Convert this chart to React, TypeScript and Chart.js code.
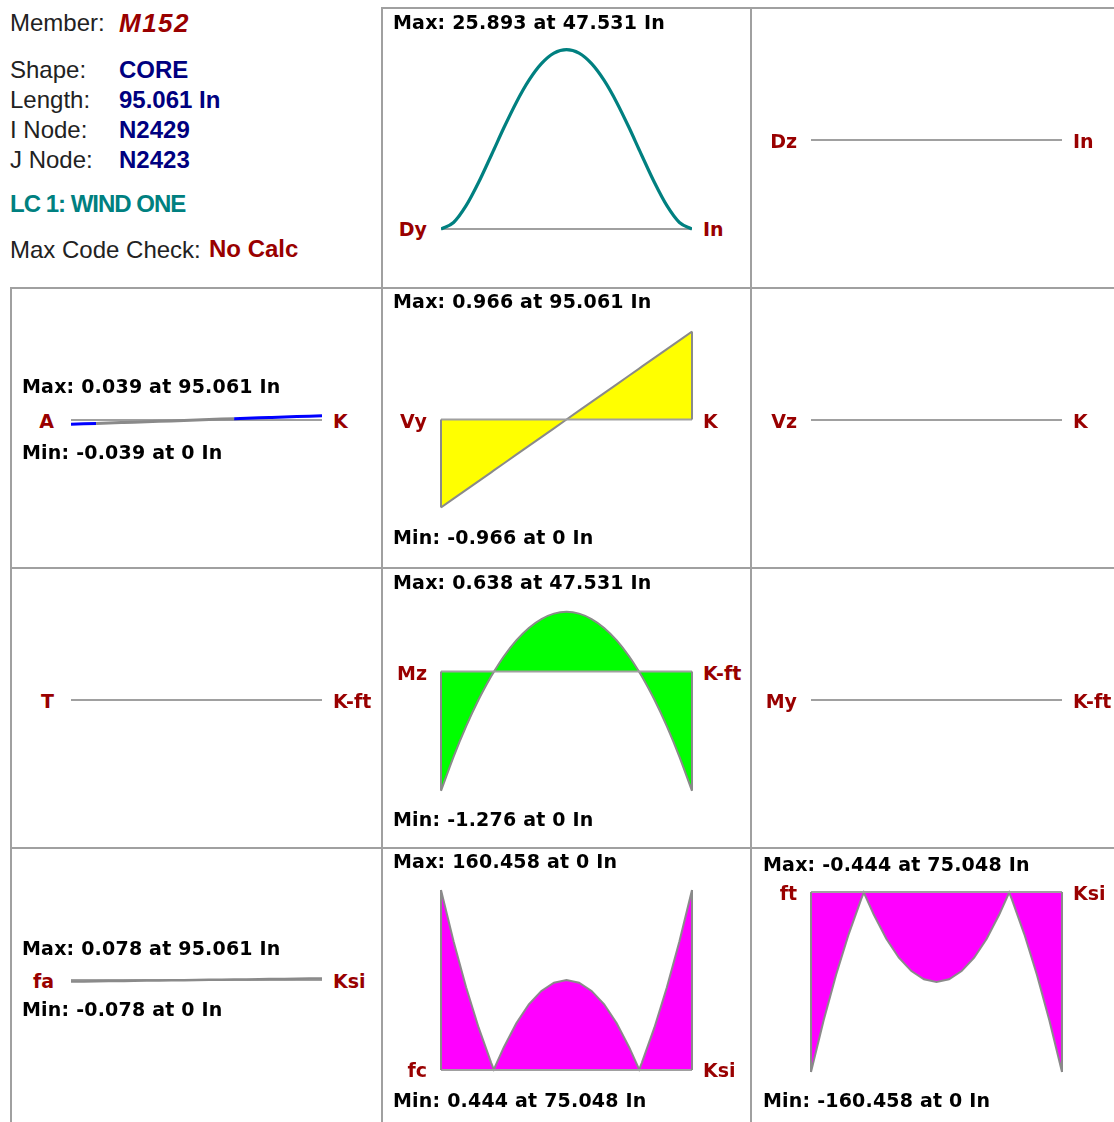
import React, { useEffect, useRef } from "react";
import { Chart, registerables } from "chart.js";

Chart.register(...registerables);

// ---------------- DATA ----------------
const memberLength = 95.061;

// stations along the member (In)
const stations = [
  0, 4.753, 9.506, 14.259, 19.012, 20.013, 23.765, 28.518, 33.271, 38.024, 42.777, 47.531,
  52.284, 57.037, 61.79, 66.543, 71.296, 75.048, 76.049, 80.802, 85.555, 90.308, 95.061,
];

// deflection Dy (In)
const dyValues = [
  0, 0.94, 3.36, 6.74, 10.61, 11.44, 14.57, 18.27, 21.44, 23.86, 25.38, 25.893,
  25.38, 23.86, 21.44, 18.27, 14.57, 11.44, 10.61, 6.74, 3.36, 0.94, 0,
];
// deflection Dz (In)
const dzValues = [0, 0, 0, 0, 0, 0, 0, 0, 0, 0, 0, 0, 0, 0, 0, 0, 0, 0, 0, 0, 0, 0, 0];
// axial A (K)
const axialValues = [
  -0.039, -0.035, -0.031, -0.027, -0.023, -0.023, -0.02, -0.016, -0.012, -0.008, -0.004, 0,
  0.004, 0.008, 0.012, 0.016, 0.02, 0.023, 0.023, 0.027, 0.031, 0.035, 0.039,
];
// shear Vy (K)
const vyValues = [
  -0.966, -0.869, -0.773, -0.676, -0.58, -0.559, -0.483, -0.386, -0.29, -0.193, -0.097, 0,
  0.097, 0.193, 0.29, 0.386, 0.483, 0.559, 0.58, 0.676, 0.773, 0.869, 0.966,
];
// shear Vz (K)
const vzValues = [0, 0, 0, 0, 0, 0, 0, 0, 0, 0, 0, 0, 0, 0, 0, 0, 0, 0, 0, 0, 0, 0, 0];
// torsion T (K-ft)
const torsionValues = [0, 0, 0, 0, 0, 0, 0, 0, 0, 0, 0, 0, 0, 0, 0, 0, 0, 0, 0, 0, 0, 0, 0];
// moment Mz (K-ft)
const mzValues = [
  -1.276, -0.912, -0.587, -0.3, -0.051, -0.004, 0.16, 0.332, 0.466, 0.561, 0.619, 0.638,
  0.619, 0.561, 0.466, 0.332, 0.16, -0.004, -0.051, -0.3, -0.587, -0.912, -1.276,
];
// moment My (K-ft)
const myValues = [0, 0, 0, 0, 0, 0, 0, 0, 0, 0, 0, 0, 0, 0, 0, 0, 0, 0, 0, 0, 0, 0, 0];
// axial stress fa (Ksi)
const faValues = [
  -0.078, -0.07, -0.062, -0.054, -0.047, -0.045, -0.039, -0.031, -0.023, -0.016, -0.008, 0,
  0.008, 0.016, 0.023, 0.031, 0.039, 0.045, 0.047, 0.054, 0.062, 0.07, 0.078,
];
// compressive stress fc (Ksi)
const fcValues = [
  160.458, 114.7, 73.8, 37.7, 6.4, 0.444, 20.1, 41.7, 58.6, 70.5, 77.8, 80.2,
  77.8, 70.5, 58.6, 41.7, 20.1, 0.444, 6.4, 37.7, 73.8, 114.7, 160.458,
];
// tensile stress ft (Ksi)
const ftValues = [
  -160.458, -114.7, -73.8, -37.7, -6.4, -0.444, -20.1, -41.7, -58.6, -70.5, -77.8, -80.2,
  -77.8, -70.5, -58.6, -41.7, -20.1, -0.444, -6.4, -37.7, -73.8, -114.7, -160.458,
];

// info panel text
const infoLabels = ["Member:", "Shape:", "Length:", "I Node:", "J Node:"];
const infoValues = ["M152", "CORE", "95.061 In", "N2429", "N2423"];
const loadCaseLabel = "LC 1: WIND ONE";
const codeCheckLabel = "Max Code Check:";
const codeCheckValue = "No Calc";

// diagram names and units
const diagramNames = ["Dy", "Dz", "A", "Vy", "Vz", "T", "Mz", "My", "fa", "fc", "ft"];
const diagramUnits = ["In", "In", "K", "K", "K", "K-ft", "K-ft", "K-ft", "Ksi", "Ksi", "Ksi"];
const maxLabels = [
  "Max: 25.893 at 47.531 In", "", "Max: 0.039 at 95.061 In", "Max: 0.966 at 95.061 In", "", "",
  "Max: 0.638 at 47.531 In", "", "Max: 0.078 at 95.061 In", "Max: 160.458 at 0 In", "Max: -0.444 at 75.048 In",
];
const minLabels = [
  "", "", "Min: -0.039 at 0 In", "Min: -0.966 at 0 In", "", "",
  "Min: -1.276 at 0 In", "", "Min: -0.078 at 0 In", "Min: 0.444 at 75.048 In", "Min: -160.458 at 0 In",
];

// ---------------- LAYOUT ----------------
const GRID = "#a0a0a0";
const OUTLINE = "#8a8a8a";
const RED = "#990000";

type Spec = {
  values: number[];
  x0: number;
  x1: number;
  rowTop: number;
  rowHeight: number;
  zero: number;
  ppu: number;
  line: string;
  lineWidth: number;
  fill: string | null;
  baseOnTop: boolean;
  smooth: boolean;
  segmentColor?: (v0: number, v1: number) => string;
  name: number;
  labelCy: number;
  maxPos?: [number, number];
  minPos?: [number, number];
  leftLabelRight: number;
  rightLabelLeft: number;
};

const COLS = [
  { x0: 71, x1: 322, lr: 54, rl: 333 },
  { x0: 441, x1: 692, lr: 427, rl: 703 },
  { x0: 811, x1: 1062, lr: 797, rl: 1073 },
];
const ROWS = [
  { top: 9, h: 278 },
  { top: 289, h: 278 },
  { top: 569, h: 278 },
  { top: 849, h: 273 },
];

function mk(
  idx: number,
  col: number,
  row: number,
  values: number[],
  zero: number,
  ppu: number,
  extra: Partial<Spec>
): Spec {
  const c = COLS[col];
  const r = ROWS[row];
  return {
    values,
    x0: c.x0,
    x1: c.x1,
    rowTop: r.top,
    rowHeight: r.h,
    zero,
    ppu,
    line: "#a0a0a0",
    lineWidth: 2,
    fill: null,
    baseOnTop: false,
    smooth: false,
    name: idx,
    labelCy: zero + 0.5,
    leftLabelRight: c.lr,
    rightLabelLeft: c.rl,
    ...extra,
  };
}

const specs: Spec[] = [
  mk(0, 1, 0, dyValues, 229, 6.93, { line: "#008080", lineWidth: 3.2, smooth: true, labelCy: 229, maxPos: [393, 21.5] }),
  mk(1, 2, 0, dzValues, 140, 1, {}),
  mk(2, 0, 1, axialValues, 420, 110, {
    line: "#0000ff",
    lineWidth: 3,
    segmentColor: (a, b) => (Math.min(a, b) > 0.01 || Math.max(a, b) < -0.03 ? "#0000ff" : "#8a8a8a"),
    maxPos: [22, 385.5],
    minPos: [22, 451.5],
  }),
  mk(3, 1, 1, vyValues, 419.5, 91.1, {
    line: OUTLINE,
    fill: "#ffff00",
    baseOnTop: true,
    labelCy: 420.5,
    maxPos: [393, 301],
    minPos: [393, 537],
  }),
  mk(4, 2, 1, vzValues, 420, 1, {}),
  mk(5, 0, 2, torsionValues, 700, 1, {}),
  mk(6, 1, 2, mzValues, 671.5, 93.5, {
    line: OUTLINE,
    fill: "#00ff00",
    baseOnTop: true,
    smooth: true,
    labelCy: 673,
    maxPos: [393, 581.5],
    minPos: [393, 818.5],
  }),
  mk(7, 2, 2, myValues, 700, 1, {}),
  mk(8, 0, 3, faValues, 980, 20, {
    line: "#8a8a8a",
    lineWidth: 2.5,
    maxPos: [22, 948],
    minPos: [22, 1009],
  }),
  mk(9, 1, 3, fcValues, 1070, 1.1218, {
    line: OUTLINE,
    fill: "#ff00ff",
    baseOnTop: true,
    labelCy: 1069.5,
    maxPos: [393, 861],
    minPos: [393, 1099.5],
  }),
  mk(10, 2, 3, ftValues, 892, 1.1218, {
    line: OUTLINE,
    fill: "#ff00ff",
    baseOnTop: true,
    labelCy: 893,
    maxPos: [763, 863.5],
    minPos: [763, 1099.5],
  }),
];

const PAD = 6;

function Diagram({ spec }: { spec: Spec }) {
  const ref = useRef<HTMLCanvasElement | null>(null);
  const left = spec.x0 - PAD;
  const width = spec.x1 - spec.x0 + PAD * 2;
  const top = spec.rowTop;
  const height = spec.rowHeight;

  useEffect(() => {
    if (!ref.current) return;
    const yMax = (spec.zero - top) / spec.ppu;
    const yMin = -(top + height - spec.zero) / spec.ppu;

    const drawBase = (chart: any) => {
      const { ctx, scales } = chart;
      const xs = scales.x;
      const ys = scales.y;
      const xa = xs.getPixelForValue(stations[0]);
      const xb = xs.getPixelForValue(stations[stations.length - 1]);
      const y0 = ys.getPixelForValue(0);
      ctx.save();
      ctx.lineWidth = 2;
      ctx.strokeStyle = GRID;
      ctx.beginPath();
      ctx.moveTo(xa, y0);
      ctx.lineTo(xb, y0);
      ctx.stroke();
      if (spec.fill && spec.baseOnTop) {
        ctx.strokeStyle = OUTLINE;
        ctx.beginPath();
        ctx.moveTo(xa, y0);
        ctx.lineTo(xa, ys.getPixelForValue(spec.values[0]));
        ctx.moveTo(xb, y0);
        ctx.lineTo(xb, ys.getPixelForValue(spec.values[spec.values.length - 1]));
        ctx.stroke();
      }
      ctx.restore();
    };

    const basePlugin = {
      id: "memberBaseline",
      beforeDatasetsDraw(chart: any) {
        if (!spec.baseOnTop) drawBase(chart);
      },
      afterDatasetsDraw(chart: any) {
        if (spec.baseOnTop) drawBase(chart);
      },
    };

    const dataset: any = {
      data: stations.map((x, i) => ({ x, y: spec.values[i] })),
      borderColor: spec.line,
      borderWidth: spec.lineWidth,
      backgroundColor: spec.fill || "transparent",
      fill: spec.fill ? "origin" : false,
      pointRadius: 0,
      tension: 0,
    };
    if (spec.smooth) {
      dataset.cubicInterpolationMode = "monotone";
      dataset.tension = 0.4;
    }
    if (spec.segmentColor) {
      const fn = spec.segmentColor;
      dataset.segment = {
        borderColor: (c: any) => fn(c.p0.parsed.y, c.p1.parsed.y),
      };
    }

    const chart = new Chart(ref.current, {
      type: "line",
      data: { datasets: [dataset] },
      plugins: [basePlugin],
      options: {
        animation: false,
        responsive: false,
        maintainAspectRatio: false,
        devicePixelRatio: 1,
        events: [],
        layout: { padding: { left: PAD, right: PAD, top: 0, bottom: 0 } },
        plugins: { legend: { display: false }, tooltip: { enabled: false }, title: { display: false } },
        scales: {
          x: { type: "linear", display: false, min: 0, max: memberLength },
          y: { type: "linear", display: false, min: yMin, max: yMax },
        },
      } as any,
    });
    return () => chart.destroy();
  }, []);

  return (
    <canvas
      ref={ref}
      width={width}
      height={height}
      style={{ position: "absolute", left, top, width, height }}
    />
  );
}

const PANEL_FONT = '"DejaVu Sans", sans-serif';
const INFO_FONT = '"Liberation Sans", Arial, sans-serif';

function Txt({
  text,
  x,
  cy,
  right,
  color,
  font,
  size,
  weight,
  italic,
  spacing,
}: {
  text: string;
  x: number;
  cy: number;
  right?: boolean;
  color: string;
  font: string;
  size: number;
  weight?: string;
  italic?: boolean;
  spacing?: number;
}) {
  const lh = 30;
  const style: React.CSSProperties = {
    position: "absolute",
    top: cy - lh / 2,
    height: lh,
    lineHeight: lh + "px",
    whiteSpace: "nowrap",
    fontFamily: font,
    fontSize: size,
    fontWeight: (weight as any) || "normal",
    fontStyle: italic ? "italic" : "normal",
    color,
    letterSpacing: spacing ? spacing + "px" : undefined,
  };
  if (right) {
    style.left = x - 300;
    style.width = 300;
    style.textAlign = "right";
  } else {
    style.left = x;
  }
  return <div style={style}>{text}</div>;
}

function Line({ x, y, w, h }: { x: number; y: number; w: number; h: number }) {
  return <div style={{ position: "absolute", left: x, top: y, width: w, height: h, background: GRID }} />;
}

export default function App() {
  const infoY = [22.5, 70, 100, 130, 160];
  return (
    <div
      style={{
        position: "absolute",
        left: 0,
        top: 0,
        width: 1114,
        height: 1122,
        overflow: "hidden",
        background: "#ffffff",
      }}
    >
      {/* grid */}
      <Line x={381} y={7} w={733} h={2} />
      <Line x={10} y={287} w={1104} h={2} />
      <Line x={10} y={567} w={1104} h={2} />
      <Line x={10} y={847} w={1104} h={2} />
      <Line x={10} y={287} w={2} h={835} />
      <Line x={381} y={7} w={2} h={1115} />
      <Line x={750} y={7} w={2} h={1115} />

      {specs.map((s, i) => (
        <Diagram key={i} spec={s} />
      ))}

      {/* info panel */}
      {infoLabels.map((t, i) => (
        <Txt key={"il" + i} text={t} x={10} cy={infoY[i]} color="#222222" font={INFO_FONT} size={24} />
      ))}
      <Txt text={infoValues[0]} x={119} cy={22.5} color={RED} font={INFO_FONT} size={26} weight="bold" italic spacing={1.5} />
      {infoValues.slice(1).map((t, i) => (
        <Txt key={"iv" + i} text={t} x={119} cy={infoY[i + 1]} color="#000080" font={INFO_FONT} size={24} weight="bold" />
      ))}
      <Txt text={loadCaseLabel} x={10} cy={204} color="#008080" font={INFO_FONT} size={24} weight="bold" spacing={-1} />
      <Txt text={codeCheckLabel} x={10} cy={250} color="#222222" font={INFO_FONT} size={24} />
      <Txt text={codeCheckValue} x={209} cy={249} color={RED} font={INFO_FONT} size={24} weight="bold" />

      {/* diagram labels */}
      {specs.map((s, i) => (
        <React.Fragment key={"lab" + i}>
          <Txt
            text={diagramNames[s.name]}
            x={s.leftLabelRight}
            cy={s.labelCy}
            right
            color={RED}
            font={PANEL_FONT}
            size={19}
            weight="bold"
          />
          <Txt
            text={diagramUnits[s.name]}
            x={s.rightLabelLeft}
            cy={s.labelCy}
            color={RED}
            font={PANEL_FONT}
            size={19}
            weight="bold"
          />
          {s.maxPos && maxLabels[s.name] ? (
            <Txt text={maxLabels[s.name]} x={s.maxPos[0]} cy={s.maxPos[1]} color="#000000" font={PANEL_FONT} size={19} weight="bold" spacing={0.2} />
          ) : null}
          {s.minPos && minLabels[s.name] ? (
            <Txt text={minLabels[s.name]} x={s.minPos[0]} cy={s.minPos[1]} color="#000000" font={PANEL_FONT} size={19} weight="bold" spacing={0.2} />
          ) : null}
        </React.Fragment>
      ))}
    </div>
  );
}
